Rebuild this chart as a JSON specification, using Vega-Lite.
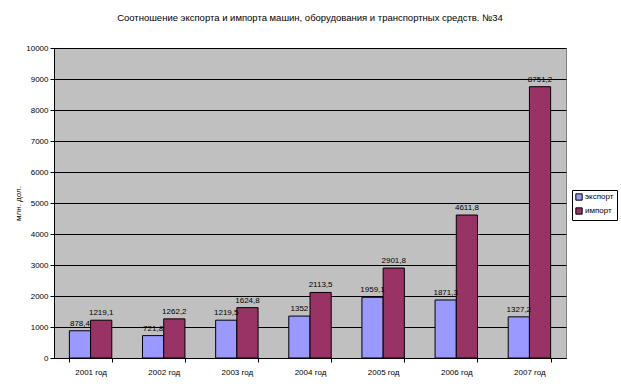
{
  "$schema": "https://vega.github.io/schema/vega-lite/v6.json",
  "width": 512,
  "height": 310,
  "autosize": {"type": "none"},
  "padding": {"left": 54, "top": 48, "right": 55, "bottom": 31},
  "background": "white",
  "title": {
    "text": "Соотношение экспорта и импорта машин, оборудования и транспортных средств. №34",
    "font": "Liberation Sans",
    "fontSize": 9.5,
    "fontWeight": "normal",
    "color": "black",
    "anchor": "middle",
    "frame": "group",
    "offset": 22
  },
  "data": {
    "values": [
      {"year": "2001 год", "type": "экспорт", "value": 878.4, "label": "878,4"},
      {"year": "2001 год", "type": "импорт", "value": 1219.1, "label": "1219,1"},
      {"year": "2002 год", "type": "экспорт", "value": 721.8, "label": "721,8"},
      {"year": "2002 год", "type": "импорт", "value": 1262.2, "label": "1262,2"},
      {"year": "2003 год", "type": "экспорт", "value": 1219.5, "label": "1219,5"},
      {"year": "2003 год", "type": "импорт", "value": 1624.8, "label": "1624,8"},
      {"year": "2004 год", "type": "экспорт", "value": 1352, "label": "1352"},
      {"year": "2004 год", "type": "импорт", "value": 2113.5, "label": "2113,5"},
      {"year": "2005 год", "type": "экспорт", "value": 1959.1, "label": "1959,1"},
      {"year": "2005 год", "type": "импорт", "value": 2901.8, "label": "2901,8"},
      {"year": "2006 год", "type": "экспорт", "value": 1871.3, "label": "1871,3"},
      {"year": "2006 год", "type": "импорт", "value": 4611.8, "label": "4611,8"},
      {"year": "2007 год", "type": "экспорт", "value": 1327.2, "label": "1327,2"},
      {"year": "2007 год", "type": "импорт", "value": 8751.2, "label": "8751,2"}
    ]
  },
  "encoding": {
    "x": {
      "field": "year",
      "type": "nominal",
      "sort": null,
      "scale": {"paddingInner": 0.42, "paddingOuter": 0.21},
      "axis": {
        "title": null,
        "labelAngle": 0,
        "labelFont": "Liberation Sans",
        "labelFontSize": 8,
        "labelColor": "black",
        "labelPadding": 6,
        "domainColor": "black",
        "tickColor": "black",
        "tickBand": "extent",
        "tickSize": 4,
        "grid": false
      }
    },
    "xOffset": {"field": "type", "type": "nominal", "sort": ["экспорт", "импорт"]},
    "y": {
      "field": "value",
      "type": "quantitative",
      "scale": {"domain": [0, 10000], "nice": false},
      "axis": {
        "title": "млн. дол.",
        "titleFont": "Liberation Sans",
        "titleFontSize": 8,
        "titleFontWeight": "normal",
        "titleColor": "black",
        "titlePadding": 3,
        "values": [0, 1000, 2000, 3000, 4000, 5000, 6000, 7000, 8000, 9000, 10000],
        "format": "d",
        "labelFont": "Liberation Sans",
        "labelFontSize": 8,
        "labelColor": "black",
        "domainColor": "black",
        "tickColor": "black",
        "tickSize": 4,
        "gridColor": "black",
        "gridOpacity": 1
      }
    }
  },
  "layer": [
    {
      "mark": {"type": "bar", "stroke": "black", "strokeWidth": 1},
      "encoding": {
        "color": {
          "field": "type",
          "type": "nominal",
          "sort": ["экспорт", "импорт"],
          "scale": {"domain": ["экспорт", "импорт"], "range": ["#9999FF", "#993366"]},
          "legend": {
            "title": null,
            "orient": "none",
            "legendX": 518,
            "legendY": 142,
            "symbolType": "square",
            "symbolSize": 40,
            "symbolStrokeColor": "black",
            "symbolStrokeWidth": 1,
            "labelFont": "Liberation Sans",
            "labelFontSize": 8,
            "labelColor": "black",
            "labelOffset": 2,
            "rowPadding": 2,
            "padding": 3,
            "strokeColor": "black",
            "fillColor": "white"
          }
        }
      }
    },
    {
      "mark": {"type": "text", "dy": -7, "font": "Liberation Sans", "fontSize": 8, "color": "black"},
      "encoding": {"text": {"field": "label"}}
    }
  ],
  "config": {
    "view": {"fill": "#C0C0C0", "stroke": "#808080"}
  }
}
